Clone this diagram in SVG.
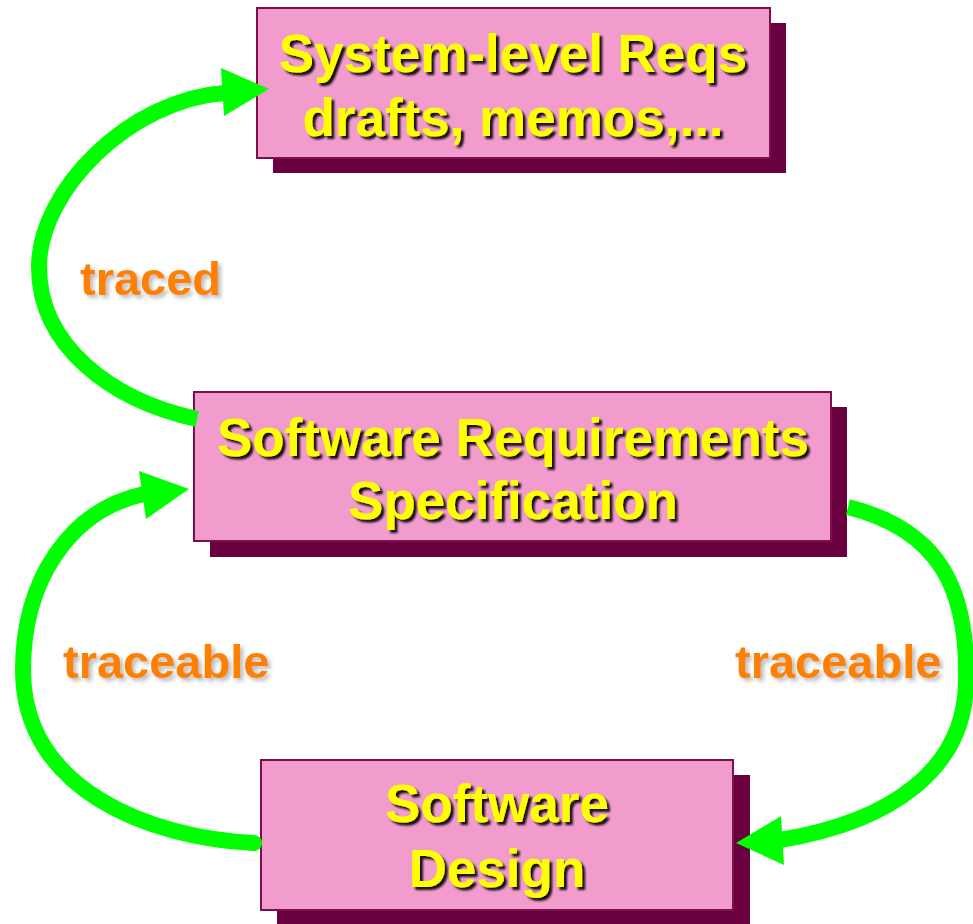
<svg xmlns="http://www.w3.org/2000/svg" width="973" height="924" viewBox="0 0 973 924">
  <defs>
    <filter id="boxTextShadow" x="-10%" y="-20%" width="120%" height="150%">
      <feDropShadow dx="3" dy="3" stdDeviation="0.8" flood-color="#000000" flood-opacity="0.9"/>
    </filter>
    <filter id="labelShadow" x="-10%" y="-20%" width="130%" height="160%">
      <feDropShadow dx="3" dy="3" stdDeviation="2" flood-color="#8a8a8a" flood-opacity="0.6"/>
    </filter>
    <style>
      .shadow { fill: #6b0040; }
      .box { fill: #f29cce; stroke: #7d0f4f; stroke-width: 2; }
      .boxText { font-family: "Liberation Sans", Arial, sans-serif; font-weight: bold; font-size: 53px; fill: #ffff00; text-anchor: middle; filter: url(#boxTextShadow); }
      .label { font-family: "Liberation Sans", Arial, sans-serif; font-weight: bold; font-size: 47px; fill: #ff8000; filter: url(#labelShadow); }
      .link { fill: none; stroke: #00ff00; stroke-width: 16; }
      .head { fill: #00ff00; }
    </style>
  </defs>

  <rect width="973" height="924" fill="#ffffff"/>

  <!-- nodes -->
  <g id="system-reqs">
    <rect class="shadow" x="273" y="23" width="513" height="150"/>
    <rect class="box" x="257" y="8" width="513" height="150"/>
    <text class="boxText" x="513" y="72">System-level Reqs</text>
    <text class="boxText" x="513" y="136">drafts, memos,...</text>
  </g>

  <g id="srs">
    <rect class="shadow" x="210" y="407" width="637" height="150"/>
    <rect class="box" x="194" y="392" width="637" height="149"/>
    <text class="boxText" x="513" y="456">Software Requirements</text>
    <text class="boxText" x="513" y="519">Specification</text>
  </g>

  <g id="software-design">
    <rect class="shadow" x="277" y="775" width="473" height="150"/>
    <rect class="box" x="261" y="760" width="472" height="150"/>
    <text class="boxText" x="497" y="822">Software</text>
    <text class="boxText" x="497" y="887">Design</text>
  </g>

  <!-- connectors -->
  <g id="connectors">
    <!-- SRS traced back to system-level requirements -->
    <path class="link" d="M 197,419 C 110,400 39,345 39,267 C 39,190 130,100 224,93"/>
    <polygon class="head" points="269,89 221,68 224,116"/>
    <!-- design traceable to SRS -->
    <path class="link" stroke-linecap="round" d="M 254,843 C 150,838 23,790 23,670 C 23,580 70,510 144,494"/>
    <polygon class="head" points="189,489 139,471 146,519"/>
    <!-- SRS traceable to design -->
    <path class="link" d="M 848,507 C 940,530 968,590 966,680 C 966,770 890,822 780,840"/>
    <polygon class="head" points="736,843 781,816 784,865"/>
  </g>

  <!-- labels -->
  <g id="labels">
    <text class="label" x="80" y="295">traced</text>
    <text class="label" x="63" y="678">traceable</text>
    <text class="label" x="735" y="678">traceable</text>
  </g>
</svg>
